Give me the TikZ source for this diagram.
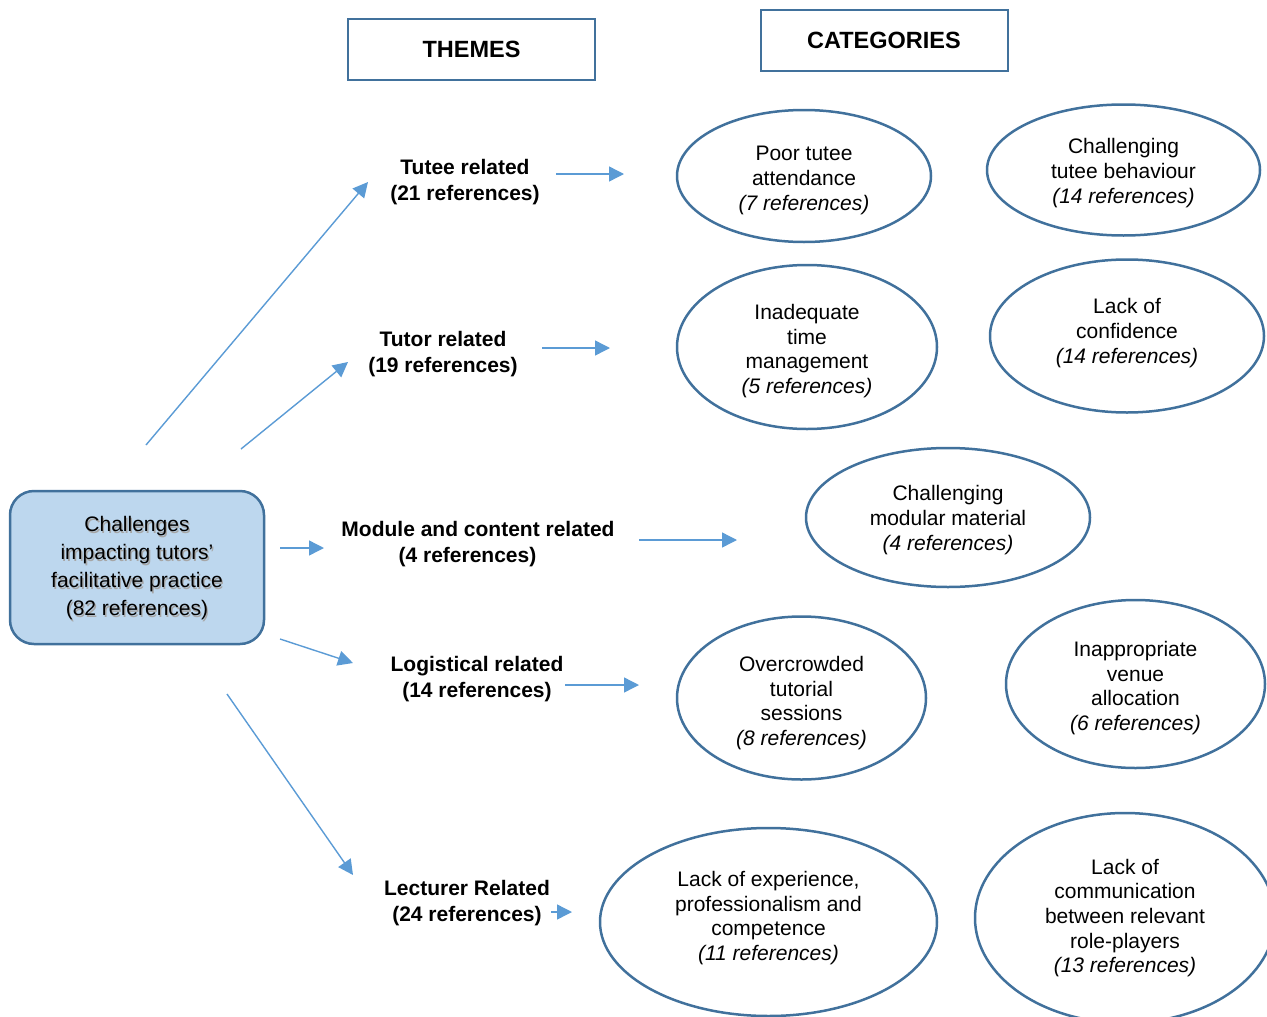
\documentclass[tikz,border=0pt]{standalone}
\usepackage{fontspec}
\setmainfont{Liberation Sans}
\usetikzlibrary{arrows.meta,shapes.geometric}
\definecolor{arrowblue}{HTML}{5B9BD5}
\definecolor{edgeblue}{HTML}{41719C}
\definecolor{boxfill}{HTML}{BDD7EE}
\begin{document}
\begin{tikzpicture}[x=1pt,y=-1pt,
  cat/.style={ellipse, draw=edgeblue, line width=2.5pt, inner sep=0pt},
  cattext/.style={align=center, font=\fontsize{21}{24.6}\selectfont},
  theme/.style={align=center, font=\fontsize{21}{26}\selectfont\bfseries},
  head/.style={draw=edgeblue, line width=2pt, minimum width=247pt, minimum height=61pt,
               font=\fontsize{23.5}{28}\selectfont\bfseries},
  mainbox/.style={draw=edgeblue, fill=boxfill, line width=2.5pt, rounded corners=24pt,
                  minimum width=254pt, minimum height=153pt},
  maintext/.style={align=center, font=\fontsize{21}{28}\selectfont},
  link/.style={draw=arrowblue, line width=1.4pt, -{Triangle[length=15pt,width=15pt]}},
]
\useasboundingbox (0,0) rectangle (1267,1017);
\clip (0,0) rectangle (1267,1017);

% headers
\node[head] (themes) at (471.5,49.5) {THEMES};
\node[head] (categories) at (884,40.5) {CATEGORIES};

% main box
\node[mainbox] (main) at (137,567.5) {};
\node[maintext, text=black!35] (mainshadow) at ([shift={(1.3,2.3)}]main.center)
  {Challenges\\impacting tutors’\\facilitative practice\\(82 references)};
\node[maintext] (maintxt) at ([shift={(0,1)}]main.center)
  {Challenges\\impacting tutors’\\facilitative practice\\(82 references)};

% themes
\node[theme] (tutee) at (465,182) {Tutee related\\(21 references)};
\node[theme] (tutor) at (443,354) {Tutor related\\(19 references)};
\node[theme] (module) at (478,544) {Module and content related\\(4 references)\kern21pt};
\node[theme] (logist) at (477,679.5) {Logistical related\\(14 references)};
\node[theme] (lect) at (467,903) {Lecturer Related\\(24 references)};

% categories (shapes)
\node[cat, minimum width=254pt, minimum height=132pt] (c1) at (804,176) {};
\node[cat, minimum width=273pt, minimum height=131pt] (c2) at (1123.5,170) {};
\node[cat, minimum width=260pt, minimum height=164pt] (c3) at (807,347) {};
\node[cat, minimum width=274pt, minimum height=153pt] (c4) at (1127,336) {};
\node[cat, minimum width=284pt, minimum height=139pt] (c5) at (948,517.5) {};
\node[cat, minimum width=249pt, minimum height=163pt] (c6) at (801.5,698) {};
\node[cat, minimum width=259pt, minimum height=168pt] (c7) at (1135.5,684) {};
\node[cat, minimum width=337pt, minimum height=188pt] (c8) at (768.5,922) {};
\node[cat, minimum width=300pt, minimum height=210pt] (c9) at (1125,918) {};

% categories (texts)
\node[cattext] (t1) at ([shift={(0,4.5)}]c1.center)
  {Poor tutee\\attendance\\\textit{(7 references)}};
\node[cattext] (t2) at ([shift={(0,3)}]c2.center)
  {Challenging\\tutee behaviour\\\textit{(14 references)}};
\node[cattext] (t3) at ([shift={(0,4)}]c3.center)
  {Inadequate\\time\\management\\\textit{(5 references)}};
\node[cattext] (t4) at ([shift={(0,-3)}]c4.center)
  {Lack of\\confidence\\\textit{(14 references)}};
\node[cattext] (t5) at ([shift={(0,2.5)}]c5.center)
  {Challenging\\modular material\\\textit{(4 references)}};
\node[cattext] (t6) at ([shift={(0,5)}]c6.center)
  {Overcrowded\\tutorial\\sessions\\\textit{(8 references)}};
\node[cattext] (t7) at ([shift={(0,4)}]c7.center)
  {Inappropriate\\venue\\allocation\\\textit{(6 references)}};
\node[cattext] (t8) at ([shift={(0,-4)}]c8.center)
  {Lack of experience,\\professionalism and\\competence\\\textit{(11 references)}};
\node[cattext] (t9) at ([shift={(0,0)}]c9.center)
  {Lack of\\communication\\between relevant\\role-players\\\textit{(13 references)}};

% connector end points (arrows float between the texts)
\coordinate (a1s) at (146,445);  \coordinate (a1e) at (368,182);
\coordinate (a2s) at (241,449);  \coordinate (a2e) at (348,362);
\coordinate (a3s) at (280,548);  \coordinate (a3e) at (324,548);
\coordinate (a4s) at (280,639);  \coordinate (a4e) at (353,663);
\coordinate (a5s) at (227,694);  \coordinate (a5e) at (353,875);
\coordinate (b1s) at (556,174);  \coordinate (b1e) at (624,174);
\coordinate (b2s) at (542,348);  \coordinate (b2e) at (610,348);
\coordinate (b3s) at (639,540);  \coordinate (b3e) at (737,540);
\coordinate (b4s) at (565,685);  \coordinate (b4e) at (639,685);
\coordinate (b5s) at (551,912);  \coordinate (b5e) at (572,912);

\draw[link] (a1s) -- (a1e);
\draw[link] (a2s) -- (a2e);
\draw[link] (a3s) -- (a3e);
\draw[link] (a4s) -- (a4e);
\draw[link] (a5s) -- (a5e);
\draw[link] (b1s) -- (b1e);
\draw[link] (b2s) -- (b2e);
\draw[link] (b3s) -- (b3e);
\draw[link] (b4s) -- (b4e);
\draw[link] (b5s) -- (b5e);
\end{tikzpicture}
\end{document}
